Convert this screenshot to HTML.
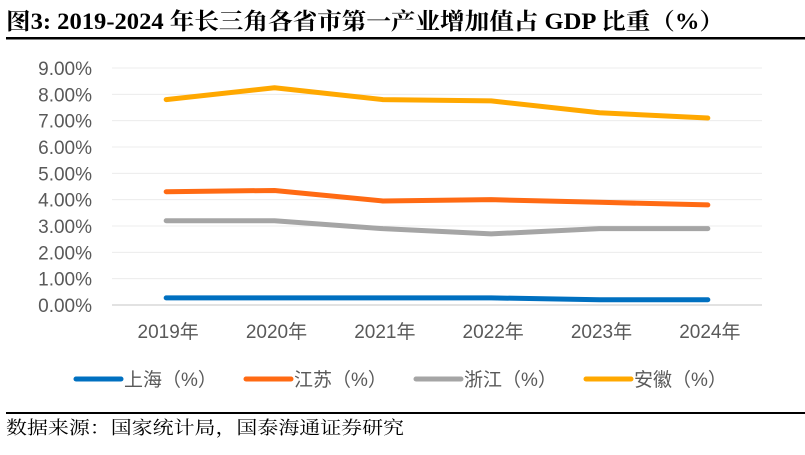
<!DOCTYPE html>
<html><head><meta charset="utf-8"><style>
body{margin:0;width:805px;height:450px;background:#fff;overflow:hidden;font-family:"Liberation Sans","Noto Sans CJK SC",sans-serif}
</style></head><body>
<svg width="805" height="450" xmlns="http://www.w3.org/2000/svg">
<text x="6" y="29" font-family="Liberation Serif,Noto Serif CJK SC,serif" font-weight="bold" font-size="23" fill="#000" textLength="718" lengthAdjust="spacingAndGlyphs">图3:  2019-2024 年长三角各省市第一产业增加值占 GDP 比重（%）</text>
<rect x="6" y="37" width="799" height="2.5" fill="#000"/>
<g id="grid"></g><g id="ylab"></g><g id="xlab"></g><g id="lines"></g><g id="legend"></g>
<rect x="6" y="412" width="799" height="2" fill="#000"/>
<text x="6" y="434" font-family="Noto Serif CJK SC,serif" font-size="18" fill="#000" textLength="398" lengthAdjust="spacingAndGlyphs">数据来源：国家统计局，国泰海通证券研究</text>
</svg>
<script>
const categories=["2019年","2020年","2021年","2022年","2023年","2024年"];
const seriesNames=["上海（%）","江苏（%）","浙江（%）","安徽（%）"];
const shanghai=[0.27,0.27,0.27,0.27,0.2,0.2];
const jiangsu=[4.3,4.35,3.95,4.0,3.9,3.8];
const zhejiang=[3.2,3.2,2.9,2.7,2.9,2.9];
const anhui=[7.8,8.25,7.8,7.75,7.3,7.1];
const yTicks=[0,1,2,3,4,5,6,7,8,9];
const colors=["#0070C0","#FF6A13","#A5A5A5","#FFA800"];
const NS="http://www.w3.org/2000/svg";
const X0=112,X1=762,Y0=305,Y9=68;
const band=(X1-X0)/categories.length;
const xs=i=>X0+band*(i+0.5);
const ys=v=>Y0-(v/9)*(Y0-Y9);
function mk(tag,attrs,parent,txt){const e=document.createElementNS(NS,tag);for(const k in attrs)e.setAttribute(k,attrs[k]);if(txt!==undefined)e.textContent=txt;document.getElementById(parent).appendChild(e);return e;}
yTicks.forEach(t=>{
 const g=mk('line',{x1:X0,x2:X1,y1:ys(t),y2:ys(t),stroke:t===0?'#d9d9d9':'#ececec','stroke-width':t===0?1.5:1},'grid');
 
 
 const l=mk('text',{x:92,y:ys(t)+7,'text-anchor':'end','font-size':19,fill:'#595959'},'ylab',t.toFixed(2)+'%');
 
 
});
categories.forEach((c,i)=>{
 const l=mk('text',{x:xs(i)+2,y:338,'text-anchor':'middle','font-size':19,fill:'#595959'},'xlab',c);
 
 
});
[shanghai,jiangsu,zhejiang,anhui].forEach((s,k)=>{
 const p=mk('polyline',{points:s.map((v,i)=>xs(i)+','+ys(v)).join(' '),fill:'none',stroke:colors[k],'stroke-width':5,'stroke-linecap':'round','stroke-linejoin':'round'},'lines');
 
 
});
const lx=[76,246,416,586];
seriesNames.forEach((n,k)=>{
 const l=mk('line',{x1:lx[k],x2:lx[k]+45,y1:379,y2:379,stroke:colors[k],'stroke-width':5,'stroke-linecap':'round'},'legend');
 
 
 const t=mk('text',{x:lx[k]+48,y:386,'font-size':19,fill:'#595959'},'legend',n);
 
 
});
</script>
</body></html>
